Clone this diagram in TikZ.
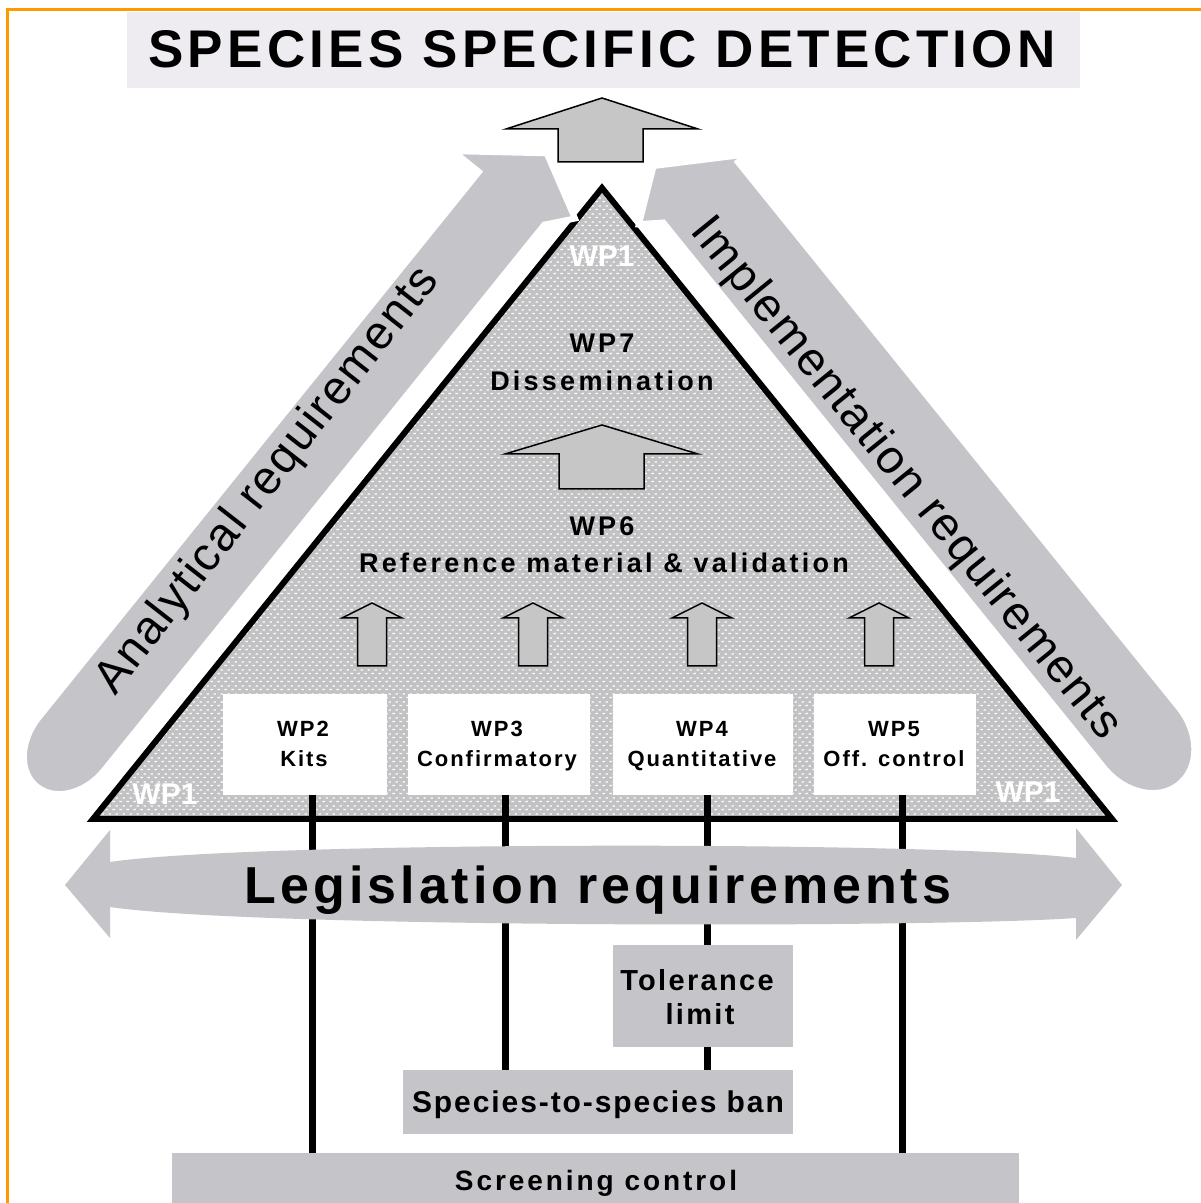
\documentclass[tikz,border=0pt]{standalone}
\usepackage{fontspec}
\setmainfont{Liberation Sans}
\usetikzlibrary{patterns}
\pgfdeclarepatternformonly{wpdots}{\pgfqpoint{0pt}{0pt}}{\pgfqpoint{7pt}{8pt}}{\pgfqpoint{7pt}{8pt}}{%
  \pgfpathrectangle{\pgfqpoint{0.5pt}{1pt}}{\pgfqpoint{2.8pt}{1.3pt}}%
  \pgfpathrectangle{\pgfqpoint{4pt}{5pt}}{\pgfqpoint{2.8pt}{1.3pt}}%
  \pgfusepath{fill}}
\definecolor{orng}{RGB}{255,153,0}
\definecolor{bandgrey}{RGB}{197,196,200}
\definecolor{titlegrey}{RGB}{238,236,240}
\definecolor{arrowgrey}{RGB}{198,198,198}
\definecolor{trigrey}{RGB}{194,194,196}
\newcommand\setfs[2]{\fontsize{#1}{#1}\selectfont\addfontfeature{LetterSpace=#2}}
\tikzset{
  lbl/.style={anchor=base, inner sep=0, font=\bfseries\setfs{27}{12}},
  boxlbl/.style={anchor=base, inner sep=0, font=\bfseries\setfs{22}{9}},
  wpone/.style={anchor=base, inner sep=0, text=white, font=\bfseries\setfs{30}{0}},
  blockarrow/.style={fill=arrowgrey, draw=black, line width=1.5, line join=miter},
  wpbox/.style={fill=white, inner sep=0, minimum height=101},
  greybox/.style={fill=bandgrey, inner sep=0},
  band/.style={fill=bandgrey, draw=white, line width=6, line join=miter},
  bandtxt/.style={inner sep=0, font=\setfs{47}{4}},
  vline/.style={line width=7},
}
\begin{document}
\begin{tikzpicture}[x=1pt,y=1pt]
\useasboundingbox (0,0) rectangle (1201,1203);
\fill[white] (0,0) rectangle (1201,1203);
\draw[orng, line width=3] (7.2,0) -- (7.2,1193) -- (1201,1193);

% title
\node[fill=titlegrey, minimum width=953, minimum height=76, inner sep=0] (titlebox) at (603.5,1153) {};
\node[anchor=base, inner sep=0] (title) at (602,1135) {\bfseries\setfs{53}{8}SPECIES SPECIFIC DETECTION};

% triangle
\coordinate (apex) at (602,1015);
\coordinate (bl) at (93,384);
\coordinate (br) at (1112,384);
\fill[trigrey] (apex) -- (br) -- (bl) -- cycle;
\fill[pattern=wpdots, pattern color=white] (apex) -- (br) -- (bl) -- cycle;
\draw[line width=6, line join=miter] (apex) -- (br) -- (bl) -- cycle;

% left band
\begin{scope}[shift={(93,384)}, rotate=51.1]
  \filldraw[band] (746,106) -- (45,106) arc[start angle=90, end angle=270, x radius=55, y radius=42]
    -- (746,22) -- (770,2) -- (803,65) -- (746,139) -- cycle;
\end{scope}
% right band
\begin{scope}[shift={(1112,384)}, rotate=128.95, yscale=-1]
  \filldraw[band] (746,122) -- (45,122) arc[start angle=90, end angle=270, x radius=60, y radius=48]
    -- (746,26) -- (760,6) -- (796,54) -- (745,136) -- cycle;
\end{scope}
\node[bandtxt, rotate=52] (ant) at (268,722) {Analytical requirements};
\node[bandtxt, rotate=-51] (imt) at (905,724) {Implementation requirements};

% top arrow
\draw[blockarrow] (602,1105) -- (698,1074) -- (643,1074) -- (643,1041) -- (558,1041) -- (558,1074) -- (506,1074) -- cycle;

% WP1 labels
\node[wpone] (w1a) at (602,936) {WP1};
\node[wpone] (w1b) at (165,398) {WP1};
\node[wpone] (w1c) at (1028,400) {WP1};

% WP7 / WP6
\node[lbl] (wp7) at (602,850) {WP7};
\node[lbl] (diss) at (602,812) {Dissemination};
\draw[blockarrow] (602,778) -- (698,749) -- (644,749) -- (644,714) -- (559,714) -- (559,749) -- (505,749) -- cycle;
\node[lbl] (wp6) at (602,667) {WP6};
\node[lbl] (refm) at (604,630) {Reference material \& validation};

% small arrows
\foreach \cx in {372,533,702,879}{
  \draw[blockarrow] (\cx,600) -- (\cx+30,585) -- (\cx+14.5,585) -- (\cx+14.5,537) -- (\cx-14.5,537) -- (\cx-14.5,585) -- (\cx-30,585) -- cycle;
}

% WP boxes
\node[wpbox, minimum width=164] (wp2) at (305,458.5) {};
\node[wpbox, minimum width=182] (wp3) at (499,458.5) {};
\node[wpbox, minimum width=180] (wp4) at (703,458.5) {};
\node[wpbox, minimum width=162] (wp5) at (895,458.5) {};
\node[boxlbl] (wp2a) at (303,466) {WP2};
\node[boxlbl] (wp2b) at (304,436) {Kits};
\node[boxlbl] (wp3a) at (497,466) {WP3};
\node[boxlbl] (wp3b) at (497,436) {Confirmatory};
\node[boxlbl] (wp4a) at (702,466) {WP4};
\node[boxlbl] (wp4b) at (702,436) {Quantitative};
\node[boxlbl] (wp5a) at (894,466) {WP5};
\node[boxlbl] (wp5b) at (894,436) {Off. control};

% bottom boxes
\node[greybox, minimum width=847, minimum height=52] (scr) at (595.5,24) {};
\node[greybox, minimum width=390, minimum height=64] (ban) at (598,101) {};

% vertical lines
\coordinate (l2) at (312,408);
\coordinate (l3) at (505,408);
\coordinate (l4) at (707,408);
\coordinate (l5) at (902,408);
\draw[vline] (l2) -- (l2 |- scr.north);
\draw[vline] (l3) -- (l3 |- ban.north);
\draw[vline] (l4) -- (l4 |- ban.north);
\draw[vline] (l5) -- (l5 |- scr.north);

\node[greybox, minimum width=180, minimum height=102] (tol) at (703,207) {};

% legislation double arrow
\fill[bandgrey] (110,341) .. controls (250,362) and (936,362) .. (1076,345) -- (1076,375) -- (1122,318)
  -- (1076,263) -- (1076,285) .. controls (936,275) and (250,275) .. (110,296)
  -- (110,265) -- (65,318) -- (110,373) -- cycle;
\node[anchor=base, inner sep=0] (legis) at (598,299) {\bfseries\setfs{52}{7.7}Legislation requirements};

% bottom box labels
\node[lbl, font=\bfseries\setfs{29}{8}] (tola) at (697,212) {Tolerance};
\node[lbl, font=\bfseries\setfs{29}{8}] (tolb) at (700,178) {limit};
\node[lbl, font=\bfseries\setfs{30}{6.4}] (bana) at (598,90) {Species-to-species ban};
\node[lbl, font=\bfseries\setfs{28}{10.5}] (scra) at (596,12.5) {Screening control};
\end{tikzpicture}
\end{document}
